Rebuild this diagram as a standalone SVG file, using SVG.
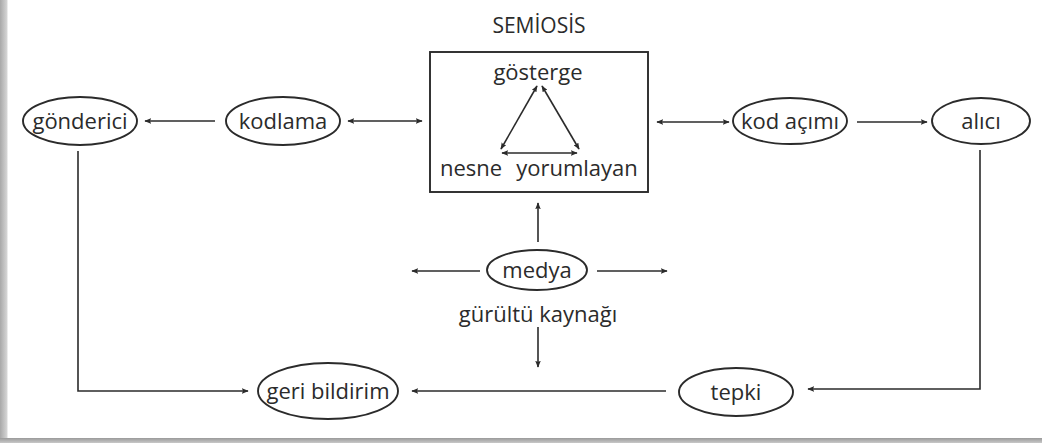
<svg xmlns="http://www.w3.org/2000/svg" width="1042" height="443" viewBox="0 0 1042 443">
  <defs>
    <linearGradient id="shadeLeft" x1="0" y1="0" x2="1" y2="0">
      <stop offset="0" stop-color="#a8a8a8"/>
      <stop offset="1" stop-color="#d8d8d8"/>
    </linearGradient>
    <linearGradient id="shadeBottom" x1="0" y1="0" x2="0" y2="1">
      <stop offset="0" stop-color="#9a9a9a"/>
      <stop offset="1" stop-color="#c8c8c8"/>
    </linearGradient>
    <marker id="head" viewBox="0 0 10 8" refX="9" refY="4" markerWidth="7" markerHeight="5.6" orient="auto-start-reverse" markerUnits="userSpaceOnUse">
      <path d="M0,0 L10,4 L0,8 L2,4 Z" fill="#2b2b2b"/>
    </marker>
  </defs>
  <style>
    .node ellipse { fill: #ffffff; stroke: #2b2b2b; stroke-width: 1.9; }
    .node rect { fill: none; stroke: #2b2b2b; stroke-width: 1.9; }
    text { font-family: "Open Sans", "Noto Sans", "Liberation Sans", sans-serif; font-size: 22px; fill: #2b2b2b; text-anchor: middle; }
    .title { font-size: 21px; }
    .edges line, .edges polyline { fill: none; stroke: #2b2b2b; stroke-width: 1.6; }
    .one { marker-end: url(#head); }
    .two { marker-start: url(#head); marker-end: url(#head); }
  </style>

  <!-- page with drop shadow -->
  <rect x="0" y="0" width="1042" height="443" fill="#ffffff"/>
  <rect x="0" y="0" width="7.5" height="443" fill="url(#shadeLeft)"/>
  <rect x="0" y="438" width="1042" height="5" fill="url(#shadeBottom)"/>

  <g id="gonderici" class="node">
    <ellipse cx="80" cy="121" rx="57" ry="24"/>
    <text x="80" y="129">gönderici</text>
  </g>
  <g id="kodlama" class="node">
    <ellipse cx="283" cy="121" rx="57" ry="24"/>
    <text x="283" y="129">kodlama</text>
  </g>
  <g id="semiosis" class="node">
    <text class="title" x="539" y="33">SEMİOSİS</text>
    <rect x="430" y="52" width="218" height="140"/>
    <text x="538" y="80">gösterge</text>
    <text x="471" y="176">nesne</text>
    <text x="577" y="176">yorumlayan</text>
  </g>
  <g id="kod-acimi" class="node">
    <ellipse cx="790" cy="121" rx="57" ry="23"/>
    <text x="790" y="129">kod açımı</text>
  </g>
  <g id="alici" class="node">
    <ellipse cx="981" cy="121" rx="49" ry="23"/>
    <text x="981" y="129">alıcı</text>
  </g>
  <g id="medya" class="node">
    <ellipse cx="537" cy="270" rx="50" ry="20"/>
    <text x="537" y="278">medya</text>
    <text x="538" y="322">gürültü kaynağı</text>
  </g>
  <g id="geri-bildirim" class="node">
    <ellipse cx="328" cy="391" rx="70" ry="28"/>
    <text x="328" y="399">geri bildirim</text>
  </g>
  <g id="tepki" class="node">
    <ellipse cx="736" cy="392" rx="57" ry="24"/>
    <text x="736" y="400">tepki</text>
  </g>

  <g class="edges">
    <!-- top row -->
    <line class="one" x1="215" y1="121" x2="145" y2="121"/>
    <line class="two" x1="348" y1="121" x2="422" y2="121"/>
    <line class="two" x1="657" y1="122" x2="729" y2="122"/>
    <line class="one" x1="857" y1="122" x2="927" y2="122"/>
    <!-- semiosis triangle -->
    <line class="two" x1="537" y1="86" x2="501" y2="149"/>
    <line class="two" x1="542" y1="86" x2="579" y2="149"/>
    <line class="two" x1="502" y1="153" x2="577" y2="153"/>
    <!-- media -->
    <line class="one" x1="538" y1="242" x2="538" y2="203"/>
    <line class="one" x1="480" y1="271" x2="412" y2="271"/>
    <line class="one" x1="597" y1="271" x2="667" y2="271"/>
    <line class="one" x1="538" y1="327" x2="538" y2="367"/>
    <!-- feedback loop -->
    <polyline class="one" points="980,150 980,389 808,389"/>
    <line class="one" x1="666" y1="391" x2="412" y2="391"/>
    <polyline class="one" points="78,151 78,391 248,391"/>
  </g>
</svg>
